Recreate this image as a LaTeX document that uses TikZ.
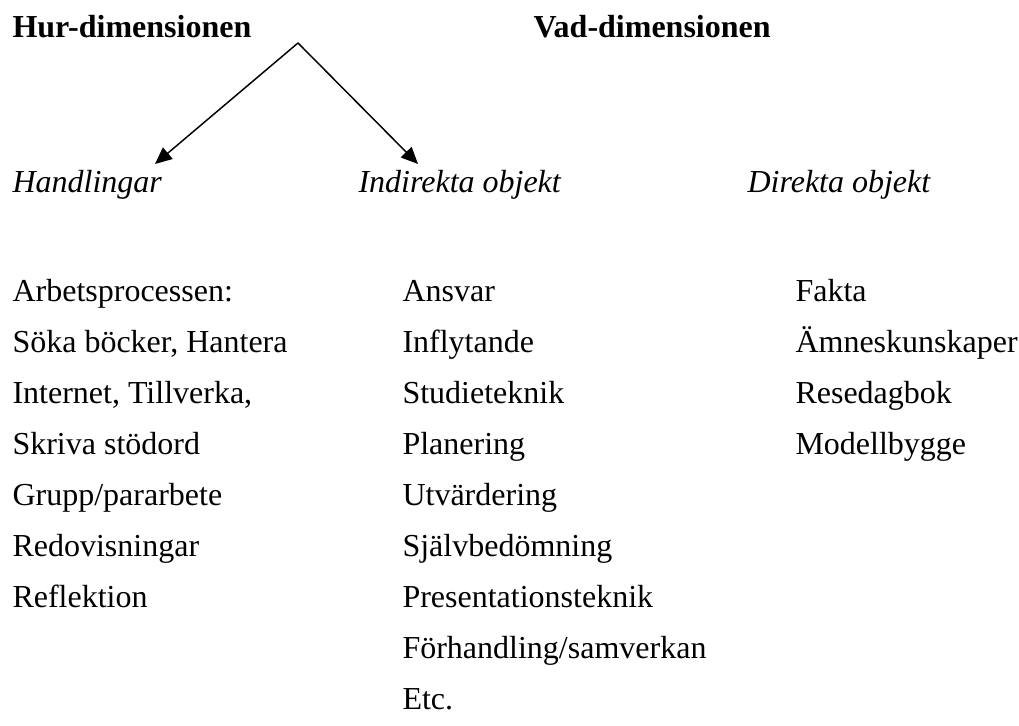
\documentclass[tikz,border=0pt]{standalone}
\usepackage{fontspec}
\setmainfont{Liberation Serif}
\usetikzlibrary{arrows.meta}
\tikzset{
  txt/.style = {anchor=base west, inner sep=0pt,
    font=\fontsize{12}{14}\selectfont},% vanlig text
  dim_head/.style = {txt, font=\fontsize{12}{14}\selectfont\bfseries},% dimension
  cat_head/.style = {txt, font=\fontsize{12}{14}\selectfont\itshape},% kategori
  pil/.style = {-{Triangle[length=6.3pt, width=5.6pt]}, line width=0.55pt}% pil
}

\begin{document}
\begin{tikzpicture}[x=0.375pt, y=-0.375pt]
  \useasboundingbox (0,0) rectangle (1019,726);
  \node [dim_head] (hur) at (12,38) {Hur-dimensionen};
  \node [dim_head] (vad) at (533,38) {Vad-dimensionen};
  \node [cat_head] (handl) at (12,193) {Handlingar};
  \node [cat_head] (indir) at (358,193) {Indirekta objekt};
  \node [cat_head] (direkt) at (747,193) {Direkta objekt};
  % pilar
  \coordinate (apex) at (298,43);
  \coordinate (tip_h) at (155,164);
  \coordinate (tip_i) at (418,164);
  \draw [pil] (apex) -- (tip_h);
  \draw [pil] (apex) -- (tip_i);
  % kolumner
  \foreach \t [count=\i] in {Arbetsprocessen:, {Söka böcker, Hantera},
      {Internet, Tillverka,}, Skriva stödord, Grupp/pararbete,
      Redovisningar, Reflektion}
    \node [txt] (h\i) at (12,{302+51*(\i-1)}) {\t};
  \foreach \t [count=\i] in {Ansvar, Inflytande, Studieteknik, Planering,
      Utvärdering, Självbedömning, Presentationsteknik,
      Förhandling/samverkan, Etc.}
    \node [txt] (i\i) at (402,{302+51*(\i-1)}) {\t};
  \foreach \t [count=\i] in {Fakta, Ämneskunskaper, Resedagbok, Modellbygge}
    \node [txt] (d\i) at (795,{302+51*(\i-1)}) {\t};
\end{tikzpicture}
\end{document}
